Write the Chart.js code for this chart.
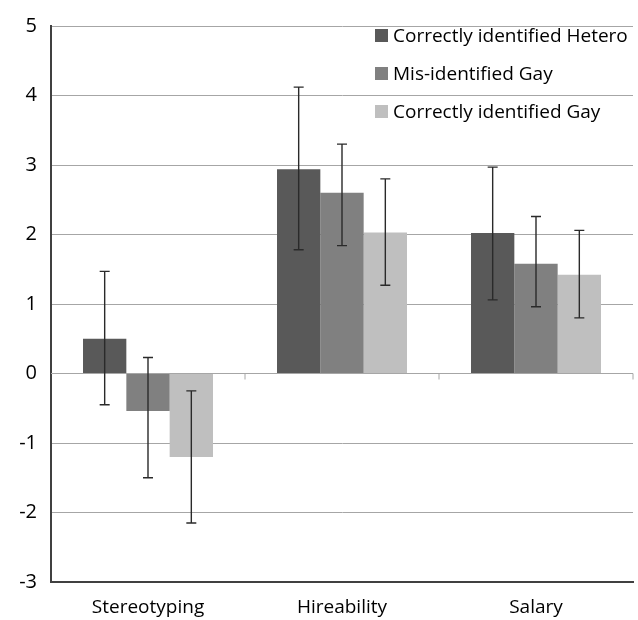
<!DOCTYPE html>
<html>
<head>
<meta charset="utf-8">
<script src="https://cdn.jsdelivr.net/npm/chart.js@4/dist/chart.umd.min.js"></script>
<style>
  html, body { margin: 0; padding: 0; background: #fff; }
  #wrap { position: relative; width: 638px; height: 620px; }
  #legend { position: absolute; left: 375px; top: 16px; font-family: "Open Sans", sans-serif; font-size: 19px; color: #000; }
  #legend div { display: flex; align-items: center; height: 38px; }
  #legend span.box { display: inline-block; width: 13px; height: 13px; margin-right: 5px; }
</style>
</head>
<body>
<div id="wrap">
  <canvas id="chart" width="638" height="620"></canvas>
  <div id="legend"></div>
</div>
<script>
// ---- data ----
const categories = ['Stereotyping', 'Hireability', 'Salary'];
const seriesNames = ['Correctly identified Hetero', 'Mis-identified Gay', 'Correctly identified Gay'];
const heteroValues  = [0.50, 2.94, 2.02];
const misGayValues  = [-0.54, 2.60, 1.58];
const gayValues     = [-1.20, 2.03, 1.42];
const heteroHigh    = [1.47, 4.12, 2.97];
const heteroLow     = [-0.45, 1.78, 1.06];
const misGayHigh    = [0.23, 3.30, 2.26];
const misGayLow     = [-1.50, 1.84, 0.96];
const gayHigh       = [-0.25, 2.80, 2.06];
const gayLow        = [-2.15, 1.27, 0.80];
const yTicks        = [-3, -2, -1, 0, 1, 2, 3, 4, 5];

const colors = ['#595959', '#808080', '#bfbfbf'];
const FONT = '"Open Sans", sans-serif';

// error bars, drawn through the scales
const errorBars = {
  id: 'errorBars',
  afterDatasetsDraw(chart) {
    const ctx = chart.ctx;
    const y = chart.scales.y;
    ctx.save();
    ctx.strokeStyle = '#2a2a2a';
    ctx.lineWidth = 1.4;
    chart.data.datasets.forEach((ds, i) => {
      const meta = chart.getDatasetMeta(i);
      meta.data.forEach((bar, j) => {
        const top = y.getPixelForValue(ds.errHigh[j]);
        const bot = y.getPixelForValue(ds.errLow[j]);
        const x = bar.x;
        ctx.beginPath();
        ctx.moveTo(x, top); ctx.lineTo(x, bot);
        ctx.moveTo(x - 5, top); ctx.lineTo(x + 5, top);
        ctx.moveTo(x - 5, bot); ctx.lineTo(x + 5, bot);
        ctx.stroke();
      });
    });
    ctx.restore();
  }
};

// zero line with category boundary ticks (excel style)
const zeroAxis = {
  id: 'zeroAxis',
  afterDatasetsDraw(chart) {
    const ctx = chart.ctx;
    const x = chart.scales.x, y = chart.scales.y;
    const y0 = y.getPixelForValue(0);
    const half = (x.getPixelForValue(1) - x.getPixelForValue(0)) / 2;
    ctx.save();
    ctx.strokeStyle = '#a6a6a6';
    ctx.lineWidth = 1;
    ctx.beginPath();
    ctx.moveTo(chart.chartArea.left, y0); ctx.lineTo(chart.chartArea.right, y0);
    categories.forEach((c, i) => {
      const bx = x.getPixelForValue(i) + half;
      ctx.moveTo(bx, y0); ctx.lineTo(bx, y0 + 6);
    });
    ctx.stroke();
    ctx.restore();
  }
};

const chart = new Chart(document.getElementById('chart'), {
  type: 'bar',
  data: {
    labels: categories,
    datasets: [
      { label: seriesNames[0], data: heteroValues, backgroundColor: colors[0], errHigh: heteroHigh, errLow: heteroLow },
      { label: seriesNames[1], data: misGayValues, backgroundColor: colors[1], errHigh: misGayHigh, errLow: misGayLow },
      { label: seriesNames[2], data: gayValues,    backgroundColor: colors[2], errHigh: gayHigh,    errLow: gayLow },
    ],
  },
  options: {
    responsive: false,
    animation: false,
    devicePixelRatio: 1,
    layout: { padding: { top: 10, right: 5, left: 0, bottom: 0 } },
    datasets: { bar: { categoryPercentage: 0.67, barPercentage: 1.0 } },
    plugins: { legend: { display: false }, tooltip: { enabled: false } },
    scales: {
      x: {
        grid: { display: false },
        border: { display: true, color: '#404040', width: 2 },
        ticks: { color: '#000', font: { family: FONT, size: 19 }, padding: 6 },
        afterFit(s) { s.height = 38; },
      },
      y: {
        min: -3, max: 5,
        afterBuildTicks(s) { s.ticks = yTicks.map(v => ({ value: v })); },
        grid: { color: '#a6a6a6', lineWidth: 1, drawTicks: false },
        border: { display: true, color: '#404040', width: 2 },
        ticks: { color: '#000', font: { family: FONT, size: 20 }, padding: 14 },
        afterFit(s) { s.width = 51; },
      },
    },
  },
  plugins: [zeroAxis, errorBars],
});

// html legend, placed inside the plot like the original
document.getElementById('legend').innerHTML = seriesNames.map((n, i) =>
  `<div><span class="box" style="background:${colors[i]}"></span>${n}</div>`).join('');
</script>
</body>
</html>
